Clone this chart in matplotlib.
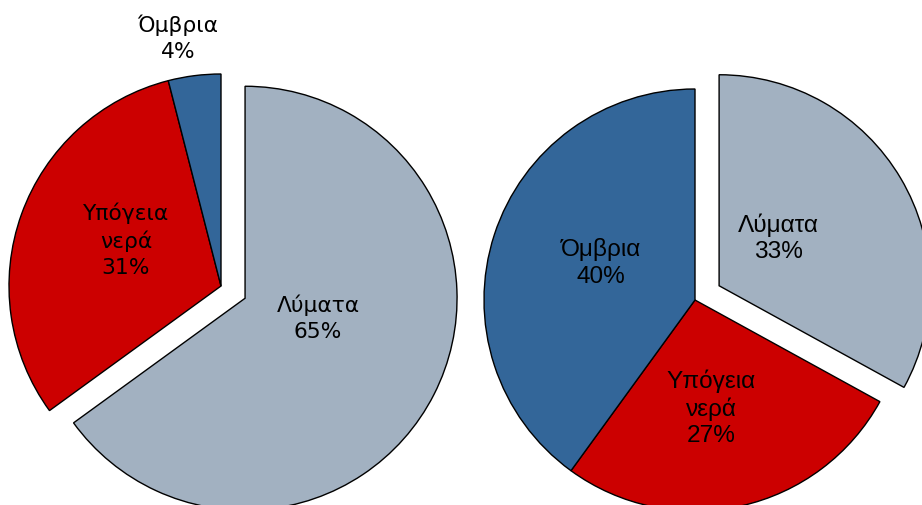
import matplotlib.pyplot as plt

# left pie
left_names = ['Λύματα', 'Υπόγεια\nνερά', 'Όμβρια']
left_values = [65, 31, 4]
# right pie
right_names = ['Λύματα', 'Υπόγεια\nνερά', 'Όμβρια']
right_values = [33, 27, 40]

colors = ['#A2B1C1', '#CC0000', '#336699']

W, H = 922, 506
fig = plt.figure(figsize=(W / 100, H / 100), dpi=100)
ax = fig.add_axes([0, 0, 1, 1])


def draw_pie(values, names, center, radius, explode, label_pos, font, size, spacing):
    labels = [f'{n}\n{v}%' for n, v in zip(names, values)]
    # explode is in data units here (axes are in pixels)
    wedges, texts = ax.pie(values, labels=labels, colors=colors, startangle=90,
                           counterclock=False, center=center, radius=radius,
                           explode=[explode, 0, 0],
                           wedgeprops=dict(edgecolor='black', linewidth=1.0),
                           textprops=dict(fontsize=size, family=font, color='black'))
    for t, (x, y) in zip(texts, label_pos):
        # label positions given in pixels from top-left
        t.set_position((x, H - y))
        t.set_ha('center')
        t.set_va('center')
        t.set_multialignment('center')
        t.set_linespacing(spacing)


draw_pie(left_values, left_names, (221, H - 287), 212, 27,
         [(318, 318), (126, 240), (178, 38)], 'DejaVu Sans', 15.7, 1.36)
draw_pie(right_values, right_names, (695, H - 301), 211, 28,
         [(778, 238), (711, 408), (601, 263)], 'Liberation Sans', 17.6, 1.25)

ax.set_xlim(0, W)
ax.set_ylim(0, H)
ax.set_aspect('equal')
ax.axis('off')

fig.savefig('out.png', dpi=100)
